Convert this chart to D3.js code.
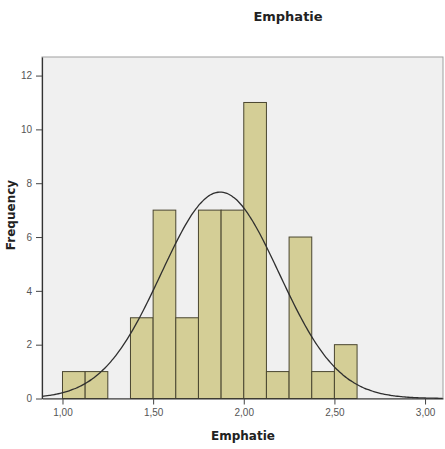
<!DOCTYPE html>
<html>
<head>
<meta charset="utf-8">
<script src="https://cdn.jsdelivr.net/npm/d3@7"></script>
<style>
  body { margin: 0; background: #fff; }
  text { font-family: "Liberation Sans", Arial, sans-serif; }
  .label { font-family: "DejaVu Sans", sans-serif; font-weight: bold; fill: #222; }
</style>
</head>
<body>
<svg id="chart" width="445" height="449"></svg>
<script>
// histogram bins (lower edge, width 0,125) and their counts
var binStarts = [1.0, 1.125, 1.25, 1.375, 1.5, 1.625, 1.75, 1.875, 2.0, 2.125, 2.25, 2.375, 2.5];
var binCounts = [1, 1, 0, 3, 7, 3, 7, 7, 11, 1, 6, 1, 2];
var binWidth = 0.125;
var xTicks = [1.0, 1.5, 2.0, 2.5, 3.0];
var yTicks = [0, 2, 4, 6, 8, 10, 12];
// fitted normal curve parameters
var fitMean = 1.87;
var fitSd = 0.325;
var fitN = 50;

var svg = d3.select("#chart");
var plotLeft = 42, plotRight = 443, plotTop = 57, plotBottom = 398.5;

var x = d3.scaleLinear().domain([0.887, 3.099]).range([plotLeft, plotRight]);
var y = d3.scaleLinear().domain([0, 12.69]).range([plotBottom, plotTop]);

var locale = d3.formatLocale({ decimal: ",", thousands: ".", grouping: [3], currency: ["", ""] });
var fmt = locale.format(".2f");

// plot background
svg.append("rect")
  .attr("x", plotLeft).attr("y", plotTop)
  .attr("width", plotRight - plotLeft).attr("height", plotBottom - plotTop)
  .attr("fill", "#f0f0f0")
  .attr("stroke", "#a0a0a0")
  .attr("stroke-width", 1);

var bins = binStarts.map(function(s, i) { return { x0: s, x1: s + binWidth, n: binCounts[i] }; });

svg.append("g")
  .selectAll("rect")
  .data(bins.filter(function(d) { return d.n > 0; }))
  .enter()
  .append("rect")
  .attr("x", function(d) { return x(d.x0); })
  .attr("y", function(d) { return y(d.n); })
  .attr("width", function(d) { return x(d.x1) - x(d.x0); })
  .attr("height", function(d) { return y(0) - y(d.n); })
  .attr("fill", "#d4ce96")
  .attr("stroke", "#4a4630")
  .attr("stroke-width", 1);

// normal curve
var curvePts = d3.range(0.887, 3.099, 0.01);
var scaleFactor = fitN * binWidth / (fitSd * Math.sqrt(2 * Math.PI));
var line = d3.line()
  .x(function(d) { return x(d); })
  .y(function(d) { return y(scaleFactor * Math.exp(-0.5 * Math.pow((d - fitMean) / fitSd, 2))); })
  .curve(d3.curveBasis);

svg.append("path")
  .datum(curvePts)
  .attr("d", line)
  .attr("fill", "none")
  .attr("stroke", "#2f2f2f")
  .attr("stroke-width", 1.3);

// axes
var xAxis = svg.append("g")
  .attr("transform", "translate(0," + plotBottom + ")")
  .call(d3.axisBottom(x).tickValues(xTicks).tickFormat(fmt).tickSize(6).tickSizeOuter(0));
var yAxis = svg.append("g")
  .attr("transform", "translate(" + plotLeft + ",0)")
  .call(d3.axisLeft(y).tickValues(yTicks).tickSize(6).tickSizeOuter(0));

[xAxis, yAxis].forEach(function(a) {
  a.select(".domain").attr("stroke", "#333").attr("stroke-width", 1.2);
  a.selectAll(".tick line").attr("stroke", "#444");
  a.selectAll(".tick text").attr("fill", "#555").style("font-size", "10px");
});
xAxis.selectAll(".tick text").attr("dy", "0.85em");
yAxis.selectAll(".tick text").attr("dx", "-1px");

// titles
svg.append("text")
  .attr("class", "label")
  .attr("x", 288).attr("y", 21)
  .attr("text-anchor", "middle")
  .style("font-size", "13px")
  .text("Emphatie");

svg.append("text")
  .attr("class", "label")
  .attr("x", 243).attr("y", 440)
  .attr("text-anchor", "middle")
  .style("font-size", "12px")
  .text("Emphatie");

svg.append("text")
  .attr("class", "label")
  .attr("transform", "translate(15,215) rotate(-90)")
  .attr("text-anchor", "middle")
  .style("font-size", "12px")
  .text("Frequency");
</script>
</body>
</html>
